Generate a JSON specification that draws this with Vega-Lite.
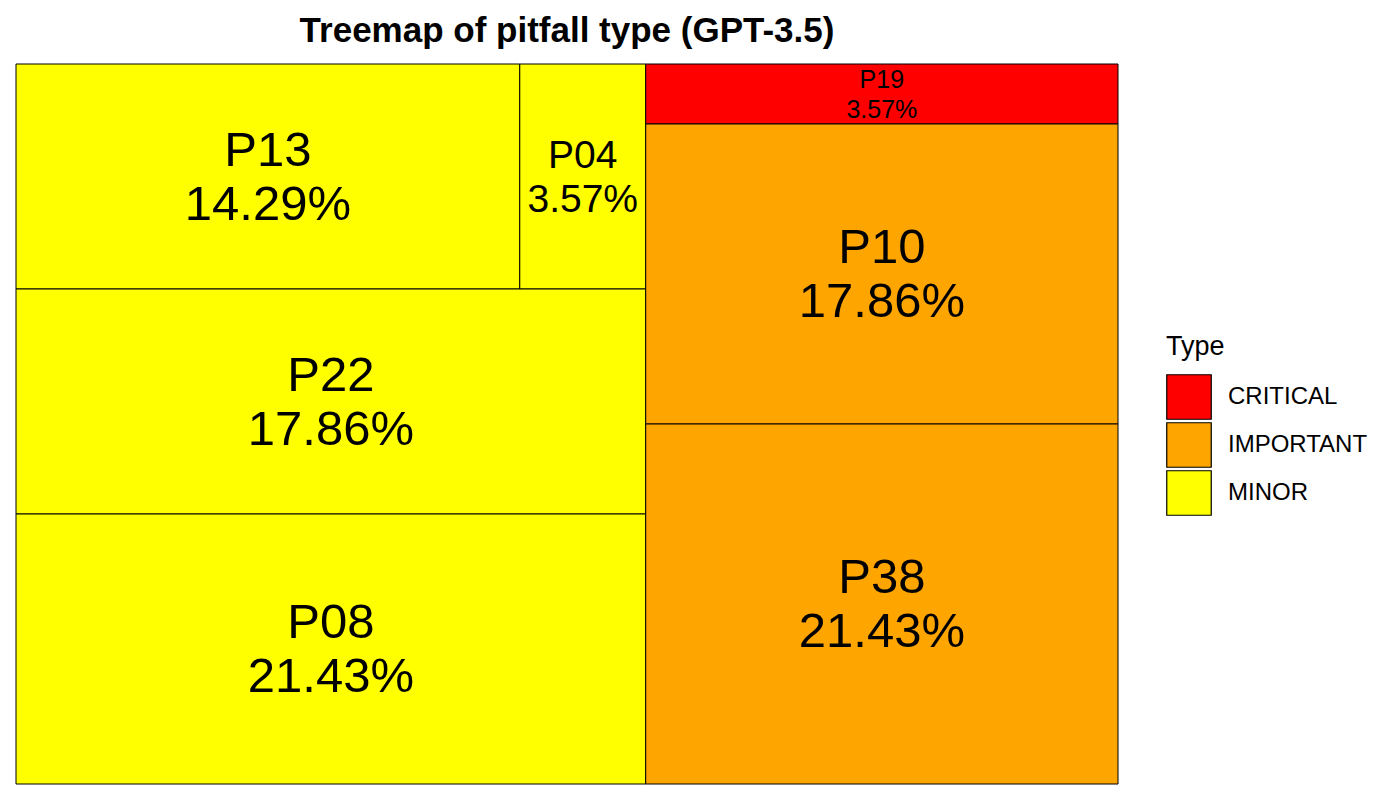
{
  "$schema": "https://vega.github.io/schema/vega-lite/v6.json",
  "width": 1102,
  "height": 720,
  "autosize": {"type": "none"},
  "padding": {"left": 16, "top": 64, "right": 282, "bottom": 16},
  "background": "white",
  "config": {"view": {"stroke": null}, "font": "Liberation Sans"},
  "title": {
    "text": "Treemap of pitfall type (GPT-3.5)",
    "anchor": "middle",
    "fontSize": 35,
    "fontWeight": "bold",
    "font": "Liberation Sans",
    "color": "black",
    "offset": 15
  },
  "data": {
    "values": [
      {"label": "P13", "type": "MINOR", "share": 0.142857, "x0": 0, "x1": 0.457143, "y0": 0, "y1": 0.3125, "cx": 0.228571, "cy": 0.15625},
      {"label": "P04", "type": "MINOR", "share": 0.035714, "x0": 0.457143, "x1": 0.571429, "y0": 0, "y1": 0.3125, "cx": 0.514286, "cy": 0.15625},
      {"label": "P22", "type": "MINOR", "share": 0.178571, "x0": 0, "x1": 0.571429, "y0": 0.3125, "y1": 0.625, "cx": 0.285714, "cy": 0.46875},
      {"label": "P08", "type": "MINOR", "share": 0.214286, "x0": 0, "x1": 0.571429, "y0": 0.625, "y1": 1, "cx": 0.285714, "cy": 0.8125},
      {"label": "P19", "type": "CRITICAL", "share": 0.035714, "x0": 0.571429, "x1": 1, "y0": 0, "y1": 0.083333, "cx": 0.785714, "cy": 0.041667},
      {"label": "P10", "type": "IMPORTANT", "share": 0.178571, "x0": 0.571429, "x1": 1, "y0": 0.083333, "y1": 0.5, "cx": 0.785714, "cy": 0.291667},
      {"label": "P38", "type": "IMPORTANT", "share": 0.214286, "x0": 0.571429, "x1": 1, "y0": 0.5, "y1": 1, "cx": 0.785714, "cy": 0.75}
    ]
  },
  "layer": [
    {
      "mark": {"type": "rect", "stroke": "black", "strokeWidth": 1, "opacity": 1},
      "encoding": {
        "x": {"field": "x0", "type": "quantitative", "scale": {"domain": [0, 1], "nice": false, "zero": false}, "axis": null},
        "x2": {"field": "x1"},
        "y": {"field": "y0", "type": "quantitative", "scale": {"domain": [0, 1], "nice": false, "zero": false, "reverse": true}, "axis": null},
        "y2": {"field": "y1"},
        "color": {
          "field": "type",
          "type": "nominal",
          "scale": {"domain": ["CRITICAL", "IMPORTANT", "MINOR"], "range": ["#FF0000", "#FFA500", "#FFFF00"]},
          "legend": {
            "title": "Type",
            "orient": "none",
            "legendX": 1150,
            "legendY": 270,
            "titleFontSize": 27,
            "titleFontWeight": "normal",
            "titleFont": "Liberation Sans",
            "titleColor": "black",
            "titlePadding": 13,
            "labelFontSize": 24,
            "labelFont": "Liberation Sans",
            "labelColor": "black",
            "labelOffset": 16,
            "symbolType": "square",
            "symbolSize": 1980,
            "symbolStrokeColor": "black",
            "symbolStrokeWidth": 1.2,
            "symbolOpacity": 1,
            "rowPadding": -2
          }
        }
      }
    },
    {
      "mark": {"type": "text", "baseline": "bottom", "align": "center", "color": "black", "font": "Liberation Sans", "dy": -1},
      "encoding": {
        "x": {"field": "cx", "type": "quantitative"},
        "y": {"field": "cy", "type": "quantitative"},
        "text": {"field": "label"},
        "size": {
          "field": "label",
          "type": "nominal",
          "scale": {"type": "ordinal", "domain": ["P13", "P04", "P22", "P08", "P19", "P10", "P38"], "range": [49, 39, 49, 49, 25, 49, 49]},
          "legend": null
        }
      }
    },
    {
      "mark": {"type": "text", "baseline": "top", "align": "center", "color": "black", "font": "Liberation Sans", "dy": 4},
      "encoding": {
        "x": {"field": "cx", "type": "quantitative"},
        "y": {"field": "cy", "type": "quantitative"},
        "text": {"field": "share", "type": "quantitative", "format": ".2%"},
        "size": {
          "field": "label",
          "type": "nominal",
          "scale": {"type": "ordinal", "domain": ["P13", "P04", "P22", "P08", "P19", "P10", "P38"], "range": [49, 39, 49, 49, 25, 49, 49]},
          "legend": null
        }
      }
    }
  ]
}
